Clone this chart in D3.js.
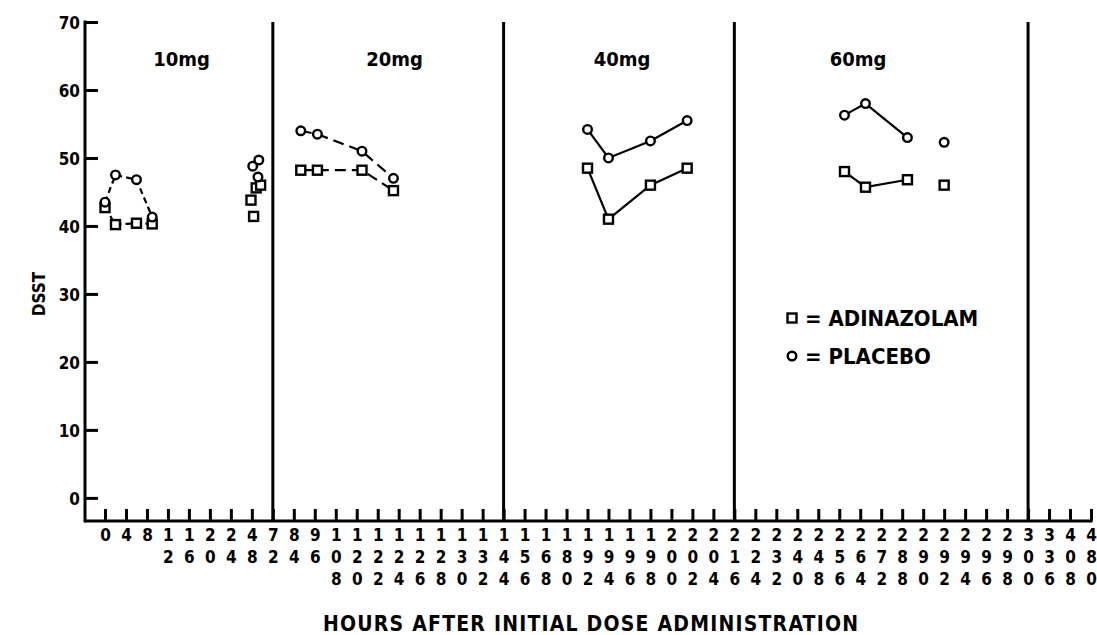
<html>
<head>
<title>DSST by dose</title>
<style>
  body { margin: 0; background: #fff; }
  text { font-family: "DejaVu Sans Condensed", "Liberation Sans Narrow", sans-serif; font-weight: bold; fill: #000; }
</style>
</head>
<body>
<div id="chart-holder"></div>
<script src="https://d3js.org/d3.v7.min.js"></script>
<script>
// tick hours along the x axis (evenly spaced, not to scale)
var hourTicks = [0, 4, 8, 12, 16, 20, 24, 48, 72, 84, 96, 108, 120, 122, 124, 126, 128, 130, 132, 144,
                 156, 168, 180, 192, 194, 196, 198, 200, 202, 204, 216, 224, 232, 240, 248, 256, 264, 272,
                 288, 290, 292, 294, 296, 298, 300, 336, 408, 480];
var yTicks = [0, 10, 20, 30, 40, 50, 60, 70];
var panelLabels = ['10mg', '20mg', '40mg', '60mg'];
var panelEnds = [72, 144, 216, 300];

// connected runs: [hour, DSST]
var adin10 = [[0, 42.7], [2, 40.2], [6, 40.4], [9, 40.3]];
var plac10 = [[0, 43.5], [2, 47.5], [6, 46.8], [9, 41.3]];
var adin10late = [[47, 43.8], [50, 41.4], [53, 45.6], [58, 46.0]];
var plac10late = [[49, 48.8], [56, 49.7], [55, 47.2]];
var adin20 = [[88, 48.2], [97.5, 48.2], [120.5, 48.2], [123.5, 45.2]];
var plac20 = [[88, 54.0], [97.5, 53.5], [120.5, 51.0], [123.5, 47.0]];
var adin40 = [[192, 48.5], [194, 41.0], [198, 46.0], [201.5, 48.5]];
var plac40 = [[192, 54.2], [194, 50.0], [198, 52.5], [201.5, 55.5]];
var adin60 = [[258, 48.0], [266, 45.7], [288.5, 46.8]];
var plac60 = [[258, 56.3], [266, 58.0], [288.5, 53.0]];
var adin60last = [[292, 46.0]];
var plac60last = [[292, 52.3]];

var width = 1097, height = 635;

var svg = d3.select('#chart-holder').append('svg')
    .attr('width', width)
    .attr('height', height);

// categorical positions for ticks, then piecewise linear for hours
var xp = d3.scalePoint().domain(hourTicks).range([105, 1091]);
var x = d3.scaleLinear().domain(hourTicks).range(hourTicks.map(function(h) { return xp(h); }));
var y = d3.scaleLinear().domain([-3.4, 70]).range([521, 22]);

var axisLeftX = 85;

// y axis
var yAxis = d3.axisLeft(y).tickValues(yTicks).tickSize(-13).tickSizeOuter(0).tickPadding(18);
var gy = svg.append('g')
    .attr('transform', 'translate(' + axisLeftX + ',0)')
    .call(yAxis);
gy.select('.domain').remove();
gy.selectAll('line').attr('stroke', '#000').attr('stroke-width', 3);
gy.selectAll('text').style('font-size', '17px').attr('x', -5).attr('dy', '0.36em');

svg.append('line')
    .attr('x1', axisLeftX).attr('x2', axisLeftX)
    .attr('y1', y(70) - 1.5).attr('y2', y(-3.4) + 1.5)
    .attr('stroke', '#000').attr('stroke-width', 3);

// x axis
var xAxis = d3.axisBottom(xp).tickSize(-12).tickSizeOuter(0).tickFormat('');
var gx = svg.append('g')
    .attr('transform', 'translate(0,' + y(-3.4) + ')')
    .call(xAxis);
gx.select('.domain').remove();
gx.selectAll('line').attr('stroke', '#000').attr('stroke-width', 3);
gx.selectAll('.tick').each(function(h) {
    var digits = String(h).split('');
    var t = d3.select(this);
    digits.forEach(function(dg, i) {
        t.append('text')
            .attr('x', 0)
            .attr('y', 20 + i * 22)
            .attr('text-anchor', 'middle')
            .style('font-size', '17px')
            .text(dg);
    });
});

svg.append('line')
    .attr('x1', axisLeftX).attr('x2', xp(480) + 1.5)
    .attr('y1', y(-3.4)).attr('y2', y(-3.4))
    .attr('stroke', '#000').attr('stroke-width', 3);

// panel separators
svg.selectAll('.sep')
    .data(panelEnds)
    .enter().append('line')
    .attr('class', 'sep')
    .attr('x1', function(d) { return x(d); })
    .attr('x2', function(d) { return x(d); })
    .attr('y1', y(70))
    .attr('y2', y(-3.4))
    .attr('stroke', '#000').attr('stroke-width', 3);

// panel titles (placed by tick index)
var titleIdx = [3.65, 13.8, 24.65, 35.9];
var step = xp.step();
svg.selectAll('.ptitle')
    .data(panelLabels)
    .enter().append('text')
    .attr('class', 'ptitle')
    .attr('x', function(d, i) { return xp(0) + titleIdx[i] * step; })
    .attr('y', 66)
    .attr('text-anchor', 'middle')
    .style('font-size', '20px')
    .text(function(d) { return d; });

// lines
var line = d3.line()
    .x(function(d) { return x(d[0]); })
    .y(function(d) { return y(d[1]); });

function drawLine(data, dash) {
    svg.append('path')
        .datum(data)
        .attr('d', line)
        .attr('fill', 'none')
        .attr('stroke', '#000')
        .attr('stroke-width', 2.2)
        .attr('stroke-dasharray', dash);
}

drawLine(adin10, '6,4');
drawLine(plac10, '6,4');
drawLine(adin20, '11,6');
drawLine(plac20, '11,6');
drawLine(adin40, null);
drawLine(plac40, null);
drawLine(adin60, null);
drawLine(plac60, null);

// markers
function squares(data) {
    svg.selectAll(null)
        .data(data)
        .enter().append('rect')
        .attr('x', function(d) { return x(d[0]) - 4.5; })
        .attr('y', function(d) { return y(d[1]) - 4.5; })
        .attr('width', 9).attr('height', 9)
        .attr('fill', '#fff').attr('stroke', '#000').attr('stroke-width', 2.4);
}
function circles(data) {
    svg.selectAll(null)
        .data(data)
        .enter().append('circle')
        .attr('cx', function(d) { return x(d[0]); })
        .attr('cy', function(d) { return y(d[1]); })
        .attr('r', 4.3)
        .attr('fill', '#fff').attr('stroke', '#000').attr('stroke-width', 2.4);
}

[adin10, adin10late, adin20, adin40, adin60, adin60last].forEach(squares);
[plac10, plac10late, plac20, plac40, plac60, plac60last].forEach(circles);

// legend
var lg = svg.append('g').attr('transform', 'translate(792,0)');
lg.append('rect').attr('x', -4.5).attr('y', 313.5).attr('width', 9).attr('height', 9)
    .attr('fill', '#fff').attr('stroke', '#000').attr('stroke-width', 2.4);
lg.append('text').attr('x', 13).attr('y', 326).style('font-size', '22px').text('= ADINAZOLAM');
lg.append('circle').attr('cx', 0).attr('cy', 356).attr('r', 4.3)
    .attr('fill', '#fff').attr('stroke', '#000').attr('stroke-width', 2.4);
lg.append('text').attr('x', 13).attr('y', 364).style('font-size', '22px').text('= PLACEBO');

// axis titles
svg.append('text')
    .attr('transform', 'translate(45,' + y(30) + ') rotate(-90)')
    .attr('text-anchor', 'middle')
    .style('font-size', '17px')
    .text('DSST');

svg.append('text')
    .attr('x', 323)
    .attr('y', 631)
    .attr('textLength', 535)
    .attr('lengthAdjust', 'spacing')
    .style('font-size', '21px')
    .text('HOURS AFTER INITIAL DOSE ADMINISTRATION');
</script>
</body>
</html>
